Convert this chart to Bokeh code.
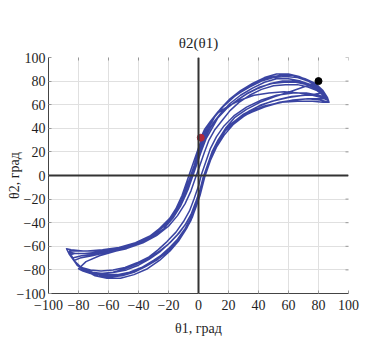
import math
from bokeh.plotting import figure
from bokeh.models import Span, FixedTicker, Range1d
from bokeh.embed import file_html
from bokeh.resources import INLINE

# ---- data: trajectory theta2(theta1), half-swings ----
r0_t1 = [1.5, 4, 8, 13, 20, 28, 37, 47, 57, 67, 76, 82, 86]
r0_t2 = [32, 39, 46, 53, 59, 64, 68, 70, 71, 70, 68, 66, 64]

l1_t1 = [86, 84, 80, 74, 67, 60, 52, 44, 36, 28, 21, 15, 10, 6, 3, 0, -3, -6, -9, -13, -18, -25, -33, -43, -54, -66, -77, -85, -88]
l1_t2 = [64, 69, 75, 80, 84, 86, 86, 83, 78, 72, 65, 57, 49, 40, 31, 20, 8, -3, -14, -25, -35, -44, -52, -58, -62, -64, -64, -63, -62]

r1_t1 = [-88, -86, -82, -76, -69, -61, -52, -43, -34, -26, -19, -13, -8, -4, -1, 2, 4, 7, 10, 14, 19, 26, 34, 44, 55, 66, 76, 83, 87]
r1_t2 = [-62, -67, -74, -80, -85, -87, -87, -84, -79, -72, -64, -55, -45, -35, -24, -12, -2, 10, 21, 31, 40, 48, 54, 59, 62, 63, 63, 62, 62]

lb_t1 = [87, 86, 83, 78, 71, 63, 55, 47, 39, 31, 24, 17, 11, 7, 4, 1, -2, -5, -8, -12, -17, -24, -32, -42, -53, -64, -74, -82, -86]
lb_t2 = [62, 66, 72, 78, 82, 85, 85, 83, 79, 73, 67, 59, 50, 41, 32, 21, 10, -1, -12, -23, -33, -43, -51, -57, -61, -63, -64, -64, -64]

rb_t1 = [-86, -85, -82, -77, -70, -62, -54, -46, -38, -30, -23, -16, -10, -6, -3, 0, 2, 5, 8, 12, 17, 23, 31, 41, 52, 63, 73, 81, 87]
rb_t2 = [-64, -68, -74, -79, -83, -84, -84, -82, -78, -72, -66, -58, -49, -40, -30, -19, -9, 2, 13, 24, 34, 43, 51, 57, 61, 64, 65, 64, 62]

l2_t1 = [87, 85, 81, 75, 68, 60, 52, 44, 36, 28, 21, 15, 10, 6, 3, 0, -2, -5, -8, -12, -17, -23, -31, -41, -52, -63, -74, -82, -85]
l2_t2 = [62, 66, 72, 77, 80, 82, 82, 79, 74, 68, 61, 53, 45, 36, 27, 17, 8, -4, -15, -26, -36, -45, -52, -58, -62, -65, -66, -66, -67]

r2_t1 = [-85, -83, -79, -73, -66, -58, -50, -42, -34, -27, -20, -14, -9, -5, -2, 1, 3, 6, 9, 13, 18, 25, 33, 42, 52, 62, 71, 79, 84]
r2_t2 = [-67, -72, -77, -81, -84, -85, -84, -81, -76, -70, -62, -54, -45, -36, -26, -15, -5, 6, 17, 28, 38, 47, 54, 60, 64, 67, 68, 68, 67]

l3_t1 = [84, 82, 78, 72, 65, 57, 49, 41, 33, 26, 19, 13, 9, 5, 2, -1, -4, -7, -11, -16, -22, -30, -39, -50, -61, -71, -79, -83]
l3_t2 = [67, 70, 74, 77, 79, 79, 78, 75, 70, 64, 57, 49, 40, 31, 21, 10, -1, -12, -23, -33, -42, -50, -56, -61, -65, -68, -70, -72]

r3_t1 = [-83, -81, -77, -71, -64, -56, -48, -40, -33, -26, -20, -14, -9, -5, -2, 1, 3, 6, 9, 13, 18, 25, 34, 44, 54, 64, 73, 80, 85]
r3_t2 = [-72, -76, -80, -82, -83, -82, -80, -76, -71, -65, -58, -50, -42, -33, -23, -12, -2, 9, 19, 29, 38, 46, 53, 58, 62, 64, 65, 65, 65]

la_t1 = [85, 83, 79, 73, 66, 58, 50, 42, 34, 27, 21, 16, 11, 7, 4, 1, -2, -5, -9, -14, -20, -28, -37, -48, -59, -70, -78, -84]
la_t2 = [65, 68, 72, 75, 77, 77, 76, 73, 68, 62, 55, 47, 39, 30, 20, 9, -2, -13, -24, -34, -43, -51, -57, -62, -65, -67, -68, -70]

ra_t1 = [-84, -82, -78, -72, -65, -57, -49, -41, -33, -27, -21, -15, -10, -6, -3, 0, 2, 5, 8, 12, 17, 24, 32, 42, 52, 63, 72, 80, 85]
ra_t2 = [-70, -74, -78, -80, -81, -80, -78, -74, -69, -63, -56, -48, -39, -30, -20, -9, 1, 12, 23, 33, 42, 51, 58, 64, 68, 70, 70, 68, 65]

l4_t1 = [85, 83, 79, 73, 66, 58, 50, 42, 34, 26, 19, 13, 8, 4, 1, -2, -5, -8, -11, -15, -20, -27, -35, -45, -56, -67, -76, -82, -86]
l4_t2 = [65, 70, 76, 80, 83, 84, 83, 80, 75, 69, 62, 54, 46, 37, 27, 16, 5, -6, -17, -28, -38, -47, -54, -59, -63, -65, -66, -66, -65]

r4_t1 = [-86, -84, -80, -74, -67, -59, -51, -43, -35, -27, -20, -14, -9, -5, -2, 1, 3, 5, 8, 12, 16, 22, 30, 39, 49, 60, 70, 78, 83]
r4_t2 = [-65, -70, -77, -82, -85, -86, -85, -82, -77, -71, -64, -56, -47, -38, -28, -17, -7, 3, 14, 25, 35, 44, 52, 58, 63, 66, 68, 69, 70]

l5_t1 = [83, 81, 77, 71, 64, 56, 48, 40, 32, 25, 18, 12, 7, 3, 0, -3, -6, -10, -14, -19, -26, -34, -44, -55, -66, -75, -80]
l5_t2 = [70, 73, 76, 78, 80, 80, 78, 74, 69, 63, 56, 48, 39, 30, 19, 8, -3, -15, -26, -36, -45, -53, -59, -64, -68, -73, -79]

r5_t1 = [-80, -77, -72, -65, -57, -49, -41, -33, -26, -19, -13, -8, -4, -1, 2, 4, 6, 9, 13, 18, 24, 32, 41, 51, 61, 70, 77, 80]
r5_t2 = [-79, -81, -83, -83, -82, -79, -75, -70, -64, -57, -49, -40, -31, -21, -11, -1, 9, 20, 30, 40, 49, 56, 62, 67, 71, 75, 78, 80]

start_point = (1.5, 32)
end_point = (80, 80)

ticks = [-100, -80, -60, -40, -20, 0, 20, 40, 60, 80, 100]
tick_labels = {t: str(t).replace("-", "\u2212") for t in ticks}

halves = [(r0_t1, r0_t2), (l1_t1, l1_t2), (r1_t1, r1_t2), (lb_t1, lb_t2),
          (rb_t1, rb_t2), (l2_t1, l2_t2), (r2_t1, r2_t2), (l3_t1, l3_t2),
          (r3_t1, r3_t2), (la_t1, la_t2), (ra_t1, ra_t2), (l4_t1, l4_t2),
          (r4_t1, r4_t2), (l5_t1, l5_t2), (r5_t1, r5_t2)]
theta1 = []
theta2 = []
for a, b in halves:
    theta1 += a
    theta2 += b

FONT = "Liberation Serif"
TXT = "#1e1e1e"

p = figure(width=373, height=355, output_backend="svg", toolbar_location=None,
           x_range=Range1d(-100, 100), y_range=Range1d(-100, 100),
           min_border_left=48, min_border_right=25, min_border_top=57,
           min_border_bottom=62, background_fill_color="white",
           border_fill_color="white", outline_line_color=None)

p.title.text = "θ2(θ1)"
p.title.align = "center"
p.title.text_font = FONT
p.title.text_font_size = "15px"
p.title.text_font_style = "normal"
p.title.text_color = TXT
p.title.standoff = 14

for ax in (p.xaxis[0], p.yaxis[0]):
    ax.ticker = FixedTicker(ticks=ticks)
    ax.major_label_overrides = tick_labels
    ax.major_label_text_font = FONT
    ax.major_label_text_font_size = "14px"
    ax.major_label_text_color = TXT
    ax.axis_label_text_font = FONT
    ax.axis_label_text_font_size = "14px"
    ax.axis_label_text_font_style = "normal"
    ax.axis_label_text_color = TXT
    ax.major_tick_in = 3
    ax.major_tick_out = 0
    ax.minor_tick_line_color = None
    ax.major_tick_line_color = "#999999"
    ax.axis_line_color = "#444444"
    ax.axis_line_width = 1

p.xaxis[0].axis_label = "θ1, град"
p.yaxis[0].axis_label = "θ2, град"
p.xaxis[0].major_label_standoff = 6
p.yaxis[0].major_label_standoff = 3
p.xaxis[0].axis_label_standoff = 8
p.yaxis[0].axis_label_standoff = -8

p.xgrid.ticker = FixedTicker(ticks=ticks)
p.ygrid.ticker = FixedTicker(ticks=ticks)
p.xgrid.grid_line_color = "#e0e0e0"
p.ygrid.grid_line_color = "#e0e0e0"

# mirror tick marks on the top and right edges (half of each dash is clipped)
p.scatter(ticks, [100] * len(ticks), marker="dash", angle=math.pi / 2, size=6,
          line_color="#999999", line_width=1)
p.scatter([100] * len(ticks), ticks, marker="dash", size=6,
          line_color="#999999", line_width=1)

p.add_layout(Span(location=0, dimension="width", line_color="#333333", line_width=2))
p.add_layout(Span(location=0, dimension="height", line_color="#333333", line_width=2))

p.line(theta1, theta2, line_color="#3a44a2", line_width=1.5, line_join="round")
p.scatter([start_point[0]], [start_point[1]], size=7, color="#b0283a")
p.scatter([end_point[0]], [end_point[1]], size=7, color="#000000")

open("out.html", "w").write(file_html(p, INLINE))
